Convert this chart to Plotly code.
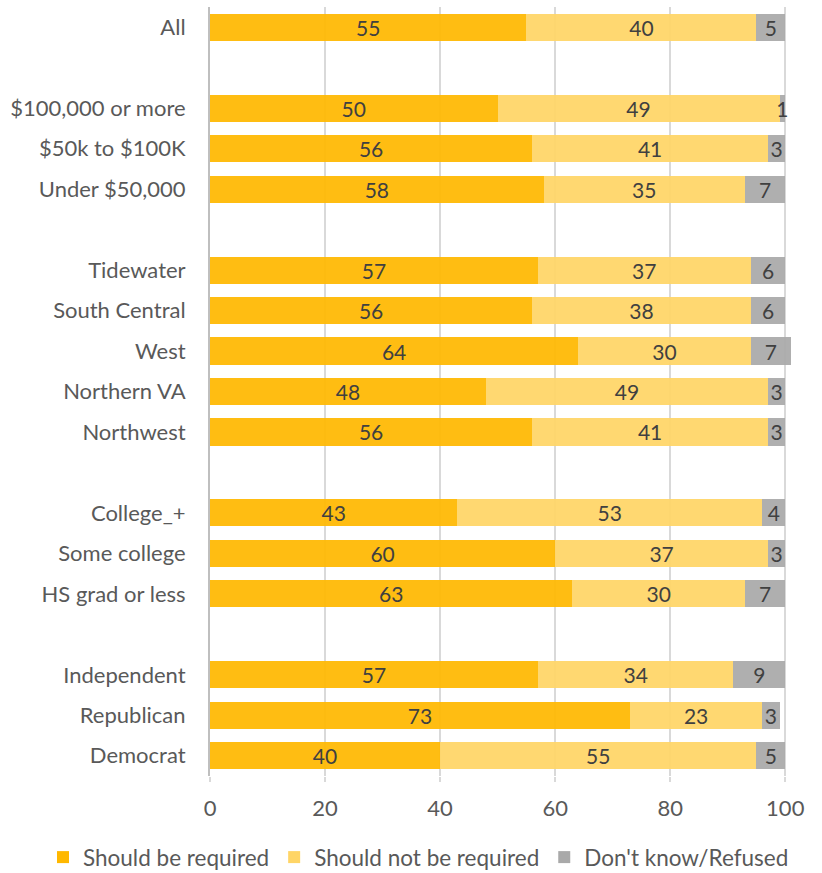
import plotly.graph_objects as go

# Survey groups (top to bottom); a blank spacer row separates each group
groups = [
    ["All"],
    ["$100,000 or more", "$50k to $100K", "Under $50,000"],
    ["Tidewater", "South Central", "West", "Northern VA", "Northwest"],
    ["College_+", "Some college", "HS grad or less"],
    ["Independent", "Republican", "Democrat"],
]

required = {
    "All": 55, "$100,000 or more": 50, "$50k to $100K": 56, "Under $50,000": 58,
    "Tidewater": 57, "South Central": 56, "West": 64, "Northern VA": 48, "Northwest": 56,
    "College_+": 43, "Some college": 60, "HS grad or less": 63,
    "Independent": 57, "Republican": 73, "Democrat": 40,
}
not_required = {
    "All": 40, "$100,000 or more": 49, "$50k to $100K": 41, "Under $50,000": 35,
    "Tidewater": 37, "South Central": 38, "West": 30, "Northern VA": 49, "Northwest": 41,
    "College_+": 53, "Some college": 37, "HS grad or less": 30,
    "Independent": 34, "Republican": 23, "Democrat": 55,
}
dont_know = {
    "All": 5, "$100,000 or more": 1, "$50k to $100K": 3, "Under $50,000": 7,
    "Tidewater": 6, "South Central": 6, "West": 7, "Northern VA": 3, "Northwest": 3,
    "College_+": 4, "Some college": 3, "HS grad or less": 7,
    "Independent": 9, "Republican": 3, "Democrat": 5,
}

series_names = ["Should be required", "Should not be required", "Don't know/Refused"]
series_colors = ["#FFB800", "#FFD566", "#A9A9A9"]
x_ticks = [0, 20, 40, 60, 80, 100]

# Category order with unique blank spacer rows
categories = []
for i, g in enumerate(groups):
    if i > 0:
        categories.append(" " * i)
    categories.extend(g)

FONT = "Lato"
TEXT_GREY = "#595959"

fig = go.Figure()
for name, color, data in zip(series_names, series_colors, [required, not_required, dont_know]):
    vals = [data.get(c) for c in categories]
    fig.add_trace(go.Bar(
        y=categories, x=vals, orientation="h", name=name,
        marker=dict(color=color, opacity=0.93, line=dict(width=0)),
        text=[("" if v is None else str(v)) for v in vals],
        textposition="inside", insidetextanchor="middle", textangle=0,
        constraintext="none", cliponaxis=False,
        textfont=dict(family=FONT, size=21, color="#404040"),
        hoverinfo="skip",
    ))

PLOT_W = 822 - 210 - 31
fig.update_layout(
    width=822, height=873,
    barmode="stack", bargap=0.33,
    plot_bgcolor="white", paper_bgcolor="white",
    margin=dict(l=210, r=31, t=7, b=97, autoexpand=False),
    font=dict(family=FONT, size=22, color=TEXT_GREY),
    legend=dict(
        orientation="h", x=-167 / PLOT_W, xanchor="left", y=-0.078, yanchor="top",
        font=dict(family=FONT, size=22.5, color=TEXT_GREY),
        itemwidth=30, traceorder="normal",
    ),
    xaxis=dict(
        range=[0, 101], tickvals=x_ticks,
        showgrid=True, gridcolor="#D9D9D9", gridwidth=1.5,
        zeroline=False, showline=False,
        ticks="outside", ticklen=5, tickcolor="#D9D9D9", tickwidth=1.5,
        ticklabelstandoff=8,
        tickfont=dict(family=FONT, size=22, color=TEXT_GREY),
        fixedrange=True,
    ),
    yaxis=dict(
        categoryorder="array", categoryarray=categories,
        autorange="reversed",
        showline=True, linecolor="#BFBFBF", linewidth=2,
        showgrid=False, ticks="", ticklabelstandoff=18,
        tickfont=dict(family=FONT, size=22, color=TEXT_GREY),
        fixedrange=True,
    ),
)

fig.write_html("out.html")
